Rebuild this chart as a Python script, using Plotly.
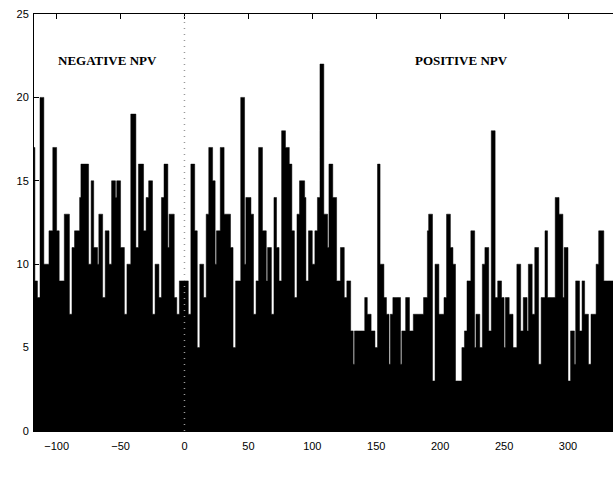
import plotly.graph_objects as go
import numpy as np

# Histogram of NPV outcomes: one-unit bins starting at -118
bin_start = -118
bin_width = 1
counts = [
    17, 9, 9, 8, 8, 20, 20, 20, 10, 10, 10, 10, 12, 12, 12, 17, 17, 17, 12, 12,
    9, 9, 9, 9, 13, 13, 13, 13, 7, 7, 11, 11, 12, 12, 12, 12, 14, 16, 16, 16,
    16, 16, 16, 10, 10, 15, 15, 11, 11, 11, 10, 13, 13, 13, 8, 8, 12, 12, 12, 10,
    10, 15, 15, 15, 14, 15, 15, 15, 11, 11, 11, 7, 7, 10, 10, 10, 19, 19, 19, 19,
    11, 11, 16, 16, 16, 16, 12, 12, 14, 14, 15, 15, 15, 7, 7, 10, 10, 10, 8, 8,
    14, 14, 16, 16, 16, 11, 13, 13, 13, 13, 8, 8, 7, 7, 9, 9, 9, 9, 9, 9,
    9,
    7, 7, 16, 16, 16, 12, 12, 5, 5, 10, 10, 10, 8, 8, 13, 13, 17, 17, 17, 15,
    15, 10, 12, 12, 12, 17, 17, 17, 13, 13, 13, 13, 13, 11, 11, 5, 5, 9, 9, 9,
    9, 20, 20, 20, 10, 14, 14, 14, 14, 13, 13, 7, 7, 9, 9, 17, 17, 17, 12, 12,
    12, 9, 11, 11, 11, 7, 7, 14, 14, 11, 11, 9, 9, 18, 18, 18, 17, 17, 17, 16,
    16, 12, 12, 8, 8, 13, 13, 15, 15, 15, 15, 14, 9, 9, 12, 12, 12, 10, 10, 12,
    12, 14, 14, 22, 22, 22, 13, 13, 13, 11, 16, 16, 16, 14, 14, 14, 9, 9, 9, 11,
    11, 11, 8, 8, 9, 9, 9, 6, 6, 4, 6, 6, 6, 6, 6, 6, 6, 6, 8, 8,
    7, 7, 7, 6, 6, 6, 5, 5, 16, 16, 10, 10, 10, 8, 8, 7, 7, 4, 7, 7,
    8, 8, 8, 8, 8, 8, 4, 6, 6, 6, 8, 8, 8, 6, 6, 6, 7, 7, 7, 7,
    7, 7, 7, 7, 8, 8, 8, 12, 13, 13, 13, 3, 3, 10, 10, 10, 7, 7, 7, 7,
    8, 8, 13, 13, 13, 11, 11, 10, 10, 3, 3, 3, 3, 3, 5, 5, 6, 6, 9, 9,
    9, 12, 12, 12, 5, 7, 7, 7, 5, 5, 10, 10, 11, 11, 11, 6, 6, 18, 18, 18,
    8, 8, 9, 9, 9, 8, 8, 5, 8, 8, 8, 7, 7, 7, 5, 5, 5, 10, 10, 10,
    6, 6, 8, 8, 8, 6, 10, 10, 10, 7, 7, 11, 11, 11, 4, 4, 8, 8, 8, 12,
    12, 8, 8, 8, 8, 8, 8, 14, 14, 14, 13, 13, 13, 8, 11, 11, 11, 3, 3, 6,
    6, 6, 4, 9, 9, 9, 6, 6, 9, 9, 7, 7, 7, 4, 4, 7, 7, 7, 7, 10,
    10, 12, 12, 12, 12, 9, 9, 9, 9, 9, 9, 9, 9,
]
x_ticks = [-100, -50, 0, 50, 100, 150, 200, 250, 300]
y_ticks = [0, 5, 10, 15, 20, 25]
region_labels = ["NEGATIVE NPV", "POSITIVE NPV"]
region_label_x = [-60, 217]
region_label_y = 22.2

# histogram drawn as a filled step outline over the bin edges
edges = bin_start + np.arange(len(counts) + 1) * bin_width
step_y = list(counts) + [counts[-1]]

fig = go.Figure()
fig.add_trace(go.Scatter(
    x=edges, y=step_y, mode="lines", line=dict(shape="hv", color="#000000", width=0.5),
    fill="tozeroy", fillcolor="#000000", showlegend=False, hoverinfo="skip",
))

fig.add_shape(type="line", x0=0, x1=0, y0=0, y1=25, xref="x", yref="y",
              line=dict(color="#9a9a9a", width=1.5, dash="1px,5px"), layer="above")

for txt, xv in zip(region_labels, region_label_x):
    fig.add_annotation(x=xv, y=region_label_y, text="<b>%s</b>" % txt, showarrow=False,
                       font=dict(family="Liberation Serif, Times New Roman, serif", size=13, color="black"))

axis_font = dict(family="Liberation Sans, Arial, Helvetica, sans-serif", size=11, color="black")
fig.update_layout(
    width=613, height=480,
    margin=dict(l=34, r=0, t=14, b=49),
    paper_bgcolor="white", plot_bgcolor="white",
    xaxis=dict(range=[-117.7, 335.2], tickvals=x_ticks, ticks="inside", ticklen=5,
               tickcolor="black", showline=True, linecolor="black", linewidth=1,
               mirror="ticks", showgrid=False, zeroline=False, tickfont=axis_font,
               ticklabelstandoff=5),
    yaxis=dict(range=[0, 25], tickvals=y_ticks, ticks="inside", ticklen=5,
               tickcolor="black", showline=True, linecolor="black", linewidth=1,
               mirror=False, showgrid=False, zeroline=False, tickfont=axis_font,
               ticklabelstandoff=2),
)

fig.write_html("out.html")
